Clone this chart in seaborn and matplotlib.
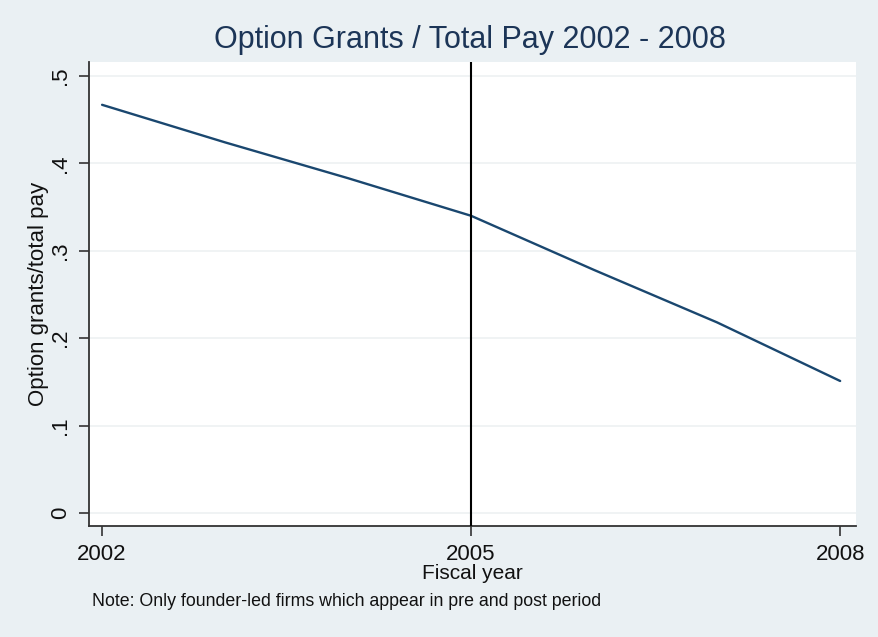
import pandas as pd
import matplotlib.pyplot as plt
import seaborn as sns

# values
years = [2002, 2003, 2004, 2005, 2006, 2007, 2008]
ratio = [0.467, 0.424, 0.383, 0.340, 0.278, 0.218, 0.151]
xticks = [2002, 2005, 2008]
yticks = [0, 0.1, 0.2, 0.3, 0.4, 0.5]
ytick_labels = ["0", ".1", ".2", ".3", ".4", ".5"]

df = pd.DataFrame({"year": years, "ratio": ratio})

sns.set_theme(style="white")
plt.rcParams["font.family"] = ["Liberation Sans", "DejaVu Sans"]

bg = "#eaf0f3"
navy = "#1a476f"

fig = plt.figure(figsize=(8.79, 6.37), dpi=100, facecolor=bg)
ax = fig.add_axes([0.1013, 0.1743, 0.8727, 0.7284])
ax.set_facecolor("white")

# light horizontal grid like Stata s2color
for y in yticks:
    ax.axhline(y, color="#eef1f2", lw=1.2, zorder=0)

sns.lineplot(data=df, x="year", y="ratio", color=navy, lw=1.7, ax=ax, zorder=3)
ax.axvline(2005, color="black", lw=1.5, zorder=4)

ax.set_xlim(2001.894, 2008.13)
ax.set_ylim(-0.0149, 0.516)
ax.set_xticks(xticks)
ax.set_xticklabels([str(x) for x in xticks], fontsize=16)
ax.set_yticks(yticks)
ax.set_yticklabels(ytick_labels, fontsize=16, rotation=90, va="center")
ax.tick_params(axis="both", direction="out", length=7, width=1.2, color="#333333",
               labelcolor="#111111", bottom=True, left=True, pad=6)

for side in ["top", "right"]:
    ax.spines[side].set_visible(False)
for side in ["left", "bottom"]:
    ax.spines[side].set_color("#333333")
    ax.spines[side].set_linewidth(1.3)

ax.set_xlabel("Fiscal year", fontsize=15, color="#111111", va="center")
ax.xaxis.set_label_coords(0.5, -0.1034)
ax.set_ylabel("Option grants/total pay", fontsize=16, color="#111111", va="center")
ax.yaxis.set_label_coords(-0.0655, 0.5)

fig.text(0.535, 0.937, "Option Grants / Total Pay 2002 - 2008", ha="center", va="center",
         fontsize=22, color="#1c3557")
fig.text(0.105, 0.055, "Note: Only founder-led firms which appear in pre and post period",
         ha="left", va="center", fontsize=12.8, color="#111111")

fig.savefig("out.png", dpi=100, facecolor=bg)
